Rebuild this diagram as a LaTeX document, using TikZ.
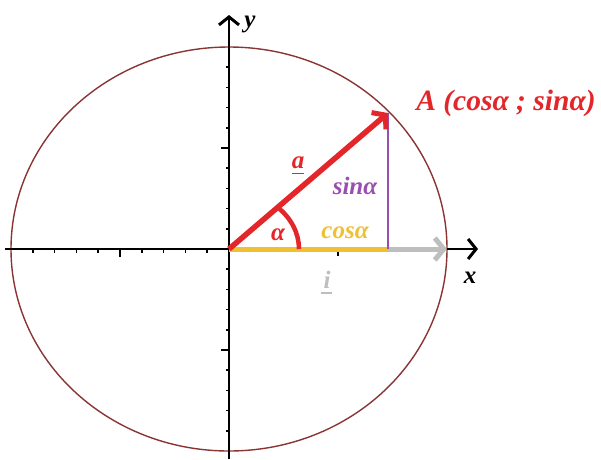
\documentclass[tikz,border=0pt]{standalone}
\usepackage{fontspec}
\setmainfont{Liberation Serif}
\usetikzlibrary{arrows.meta}
\definecolor{ringc}{HTML}{8A3434}
\definecolor{redc}{HTML}{E3262A}
\definecolor{goldc}{HTML}{F0C030}
\definecolor{purc}{HTML}{9A4FB0}
\definecolor{grayc}{HTML}{BEBEBE}
\tikzset{
  axis/.style={line width=2.4pt,black},
  axtip/.style={-{Straight Barb[length=8pt,width=20pt,line width=3pt]}},
  smalltick/.style={line width=1.5pt,black},
  bigtick/.style={line width=2pt,black},
  lab/.style={font=\fontsize{25}{27}\selectfont\bfseries\itshape,inner sep=0pt},
}
\begin{document}
\begin{tikzpicture}[x=1pt,y=1pt]
\useasboundingbox (-229,-210) rectangle (372,249);
\coordinate (O) at (0,0);
\coordinate (A) at (159,136);
\coordinate (F) at (159,0);
\coordinate (I) at (218,0);
\coordinate (xl) at (-224,0);
\coordinate (xr) at (249,0);
\coordinate (yb) at (0,-210);
\coordinate (yt) at (0,234);
% circle
\draw[ringc,line width=1.4pt] (O) ellipse [x radius=218,y radius=202];
% ticks
\foreach \k in {1,...,9}{
  \draw[smalltick] (-\k*21.8,0) -- ++(0,-3.5);
  \draw[smalltick,black!35] (\k*21.8,0) -- ++(0,-3);
  \draw[smalltick] (0,\k*20.2) -- ++(-3.5,0);
  \draw[smalltick] (0,-\k*20.2) -- ++(-3.5,0);
}
\draw[bigtick] (-109,0) -- ++(0,-8);
\draw[bigtick] (109,0) -- ++(0,-7);
\draw[bigtick] (0,101) -- ++(-8,0);
\draw[bigtick] (0,-101) -- ++(-8,0);
% axes
\draw[axis,axtip] (xl) -- (xr);
\draw[axis,axtip] (yb) -- (yt);
% i vector
\draw[grayc,line width=5pt,-{Straight Barb[length=9pt,width=22pt,line width=5pt]}] (O) -- (I);
% cos and sin
\draw[goldc,line width=4.5pt] (O) -- (F);
\draw[purc,line width=2.5pt] (F) -- (A);
% angle
\draw[redc,line width=4.5pt] (70,0) arc[start angle=0,end angle=46,x radius=70,y radius=58];
% vector a
\draw[redc,line width=5.5pt,-{Straight Barb[length=9pt,width=22pt,line width=5pt]}] (O) -- (A);
% labels
\node[lab,redc] (lA) at (277,146) {\fontsize{29.5}{31}\selectfont A (cosα ; sinα)};
\node[lab,redc] (la) at (69,86) {a};
\draw[redc,line width=1.3pt] ([yshift=-4pt]la.south west) coordinate (u1) -- ([yshift=-4pt]la.south east) coordinate (u2);
\node[lab,purc] (ls) at (126,63) {sinα};
\node[lab,goldc] (lc) at (116,16) {cosα};
\node[lab,redc] (lal) at (49,14) {α};
\node[lab,grayc] (li) at (98,-31) {i};
\draw[grayc,line width=1.3pt] ([xshift=-2pt,yshift=-4pt]li.south west) coordinate (v1) -- ([xshift=1pt,yshift=-4pt]li.south east) coordinate (v2);
\node[lab,black] (lx) at (241,-29) {x};
\node[lab,black] (ly) at (21,225) {y};
\end{tikzpicture}
\end{document}
